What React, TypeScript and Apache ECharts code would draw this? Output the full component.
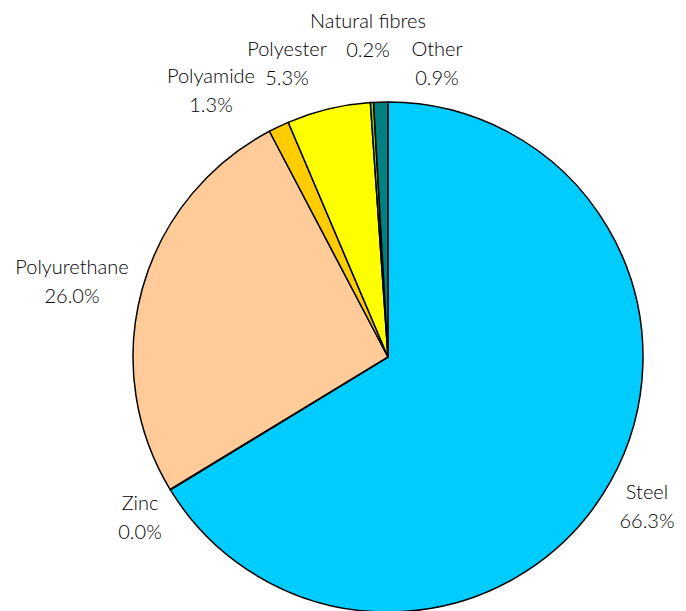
import React, { useEffect, useRef } from "react";
import * as echarts from "echarts";

const categories = ["Steel", "Zinc", "Polyurethane", "Polyamide", "Polyester", "Natural fibres", "Other"];
const shares = [66.3, 0.045, 26.0, 1.3, 5.3, 0.2, 0.9];
const colors = ["#00CCFF", "#3366CC", "#FFCC99", "#FFCC00", "#FFFF00", "#99CC00", "#008080"];
// label block centres (px) as placed in the reference
const labelAnchors: [number, number][] = [
  [647, 505],
  [140, 516],
  [72, 280],
  [211, 89],
  [287, 62],
  [368, 34],
  [437, 62],
];

export default function App() {
  const ref = useRef<HTMLDivElement>(null);
  useEffect(() => {
    document.body.style.margin = "0";
    if (!ref.current) return;
    const chart = echarts.init(ref.current, null, { renderer: "svg" });
    chart.setOption({
      animation: false,
      backgroundColor: "#ffffff",
      series: [
        {
          type: "pie",
          center: [388, 357],
          radius: [0, 255],
          startAngle: 90,
          clockwise: true,
          avoidLabelOverlap: false,
          itemStyle: { borderColor: "#000000", borderWidth: 1.5 },
          emphasis: { disabled: true },
          label: {
            show: true,
            position: "outside",
            formatter: (p: any) => `${p.name}\n${Number(p.value).toFixed(1)}%`,
            fontFamily: "Lato",
            fontWeight: 300,
            fontSize: 20,
            lineHeight: 29,
            color: "#000000",
            align: "center",
          },
          labelLine: { show: false },
          labelLayout: (params: any) => {
            const a = labelAnchors[params.dataIndex];
            return { x: a[0], y: a[1], align: "center", verticalAlign: "middle" };
          },
          data: categories.map((c, i) => ({
            name: c,
            value: shares[i],
            itemStyle: { color: colors[i] },
          })),
        },
      ],
    });
    return () => chart.dispose();
  }, []);
  return <div ref={ref} style={{ width: 686, height: 611 }} />;
}
